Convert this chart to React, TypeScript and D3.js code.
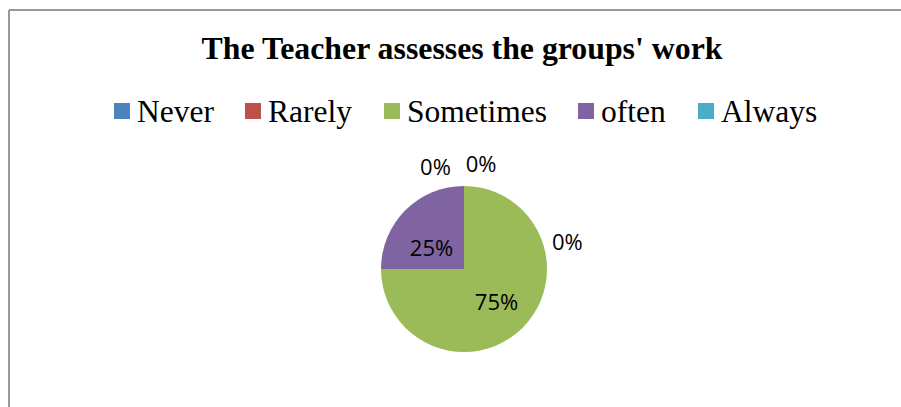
import React from "react";
import * as d3 from "d3";

const title = "The Teacher assesses the groups' work";
const categories = ["Never", "Rarely", "Sometimes", "often", "Always"];
const values = [0, 0, 75, 25, 0];
const colors = ["#4F81BD", "#C0504D", "#9BBB59", "#8064A2", "#4BACC6"];
// angular nudge (radians) for outside labels of empty slices, to avoid overlap
const zeroLabelAngles = [0.16, 1.31, 0, 0, -0.27];
// small vertical nudge for inside labels
const insideLabelDy = [0, 0, -1, 11, 0];

const W = 901;
const H = 407;

export default function App() {
  const cx = 464;
  const cy = 269;
  const r = 83;

  const pie = d3
    .pie<number>()
    .sort(null)
    .value((d) => d)(values);
  const arc = d3.arc<d3.PieArcDatum<number>>().innerRadius(0).outerRadius(r);
  const total = d3.sum(values);

  const legendX = [114, 245, 384, 578, 698];

  return (
    <svg
      width={W}
      height={H}
      style={{ position: "absolute", left: 0, top: 0, display: "block" }}
    >
      <rect x={0} y={0} width={W} height={H} fill="#fff" />
      <line x1={9} y1={10} x2={W} y2={10} stroke="#999" strokeWidth={2} />
      <line x1={9} y1={10} x2={9} y2={H} stroke="#999" strokeWidth={2} />
      <text
        x={462}
        y={59}
        textAnchor="middle"
        fontFamily="'Liberation Serif', 'Times New Roman', serif"
        fontWeight="bold"
        fontSize={31.8}
        fill="#000"
      >
        {title}
      </text>
      {categories.map((c, i) => (
        <g key={c}>
          <rect x={legendX[i]} y={103} width={16} height={16} fill={colors[i]} />
          <text
            x={legendX[i] + 23}
            y={122}
            fontFamily="'Liberation Serif', 'Times New Roman', serif"
            fontSize={31.5}
            fill="#000"
          >
            {c}
          </text>
        </g>
      ))}
      <g transform={`translate(${cx},${cy})`}>
        {pie.map((d, i) =>
          d.value > 0 ? (
            <path key={i} d={arc(d) || ""} fill={colors[i]} />
          ) : null
        )}
        {pie.map((d, i) => {
          const pct = Math.round((d.value / total) * 100) + "%";
          let a: number;
          let rr: number;
          let dy = 0;
          if (d.value > 0) {
            a = (d.startAngle + d.endAngle) / 2;
            rr = 46;
            dy = insideLabelDy[i];
          } else {
            a = d.startAngle + zeroLabelAngles[i];
            rr = 107;
          }
          const x = Math.sin(a) * rr;
          const y = -Math.cos(a) * rr + dy;
          return (
            <text
              key={"l" + i}
              x={x}
              y={y}
              textAnchor="middle"
              dominantBaseline="central"
              fontFamily="'Open Sans', sans-serif"
              fontSize={22}
              fill="#000"
            >
              {pct}
            </text>
          );
        })}
      </g>
    </svg>
  );
}
